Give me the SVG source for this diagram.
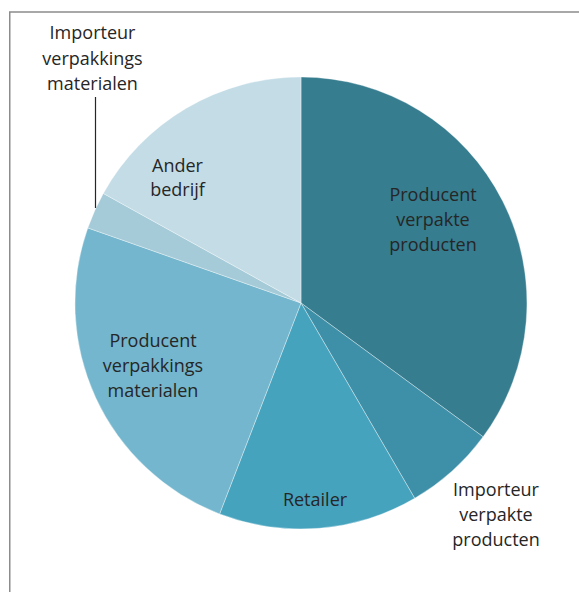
<svg xmlns="http://www.w3.org/2000/svg" width="579" height="592" viewBox="0 0 579 592">
<style>
  .slice { stroke: #ffffff; stroke-opacity: 0.35; stroke-width: 1; }
  .lbl { font-family: "Open Sans", "Noto Sans", "Liberation Sans", sans-serif; font-size: 18px; fill: #262626; text-anchor: middle; }
  .frame { fill: none; stroke: #8c8c8c; stroke-width: 1.5; }
  .leader { stroke: #262626; stroke-width: 1.2; fill: none; }
</style>
<rect x="0" y="0" width="579" height="592" fill="#ffffff"/>
<path class="frame" d="M579,12 L9.75,12 L9.75,592"/>
<g id="slice-producent-verpakte-producten">
  <path class="slice" fill="#367d8f" d="M301,303 L301,77 A226,226 0 0,1 483.1,436.8 Z"/>
  <text class="lbl" x="433" y="201">Producent</text>
  <text class="lbl" x="433" y="226">verpakte</text>
  <text class="lbl" x="433" y="251">producten</text>
</g>
<g id="slice-importeur-verpakte-producten">
  <path class="slice" fill="#3e90a8" d="M301,303 L483.1,436.8 A226,226 0 0,1 414.7,498.3 Z"/>
  <text class="lbl" x="496" y="496">Importeur</text>
  <text class="lbl" x="496" y="521">verpakte</text>
  <text class="lbl" x="496" y="546">producten</text>
</g>
<g id="slice-retailer">
  <path class="slice" fill="#46a3be" d="M301,303 L414.7,498.3 A226,226 0 0,1 219.6,513.9 Z"/>
  <text class="lbl" x="315" y="506">Retailer</text>
</g>
<g id="slice-producent-verpakkings-materialen">
  <path class="slice" fill="#73b6cd" d="M301,303 L219.6,513.9 A226,226 0 0,1 87.8,227.9 Z"/>
  <text class="lbl" x="153" y="347">Producent</text>
  <text class="lbl" x="153" y="372">verpakkings</text>
  <text class="lbl" x="153" y="397">materialen</text>
</g>
<g id="slice-importeur-verpakkings-materialen">
  <path class="slice" fill="#a5cbd9" d="M301,303 L87.8,227.9 A226,226 0 0,1 103.3,193.4 Z"/>
  <text class="lbl" x="92.5" y="39">Importeur</text>
  <text class="lbl" x="92.5" y="64.5">verpakkings</text>
  <text class="lbl" x="92.5" y="90">materialen</text>
</g>
<g id="slice-ander-bedrijf">
  <path class="slice" fill="#c3dce6" d="M301,303 L103.3,193.4 A226,226 0 0,1 301,77 Z"/>
  <text class="lbl" x="177.5" y="172">Ander</text>
  <text class="lbl" x="177.5" y="196">bedrijf</text>
</g>
<g id="connectors">
  <line class="leader" x1="95.5" y1="97" x2="95.5" y2="208"/>
</g>
</svg>
